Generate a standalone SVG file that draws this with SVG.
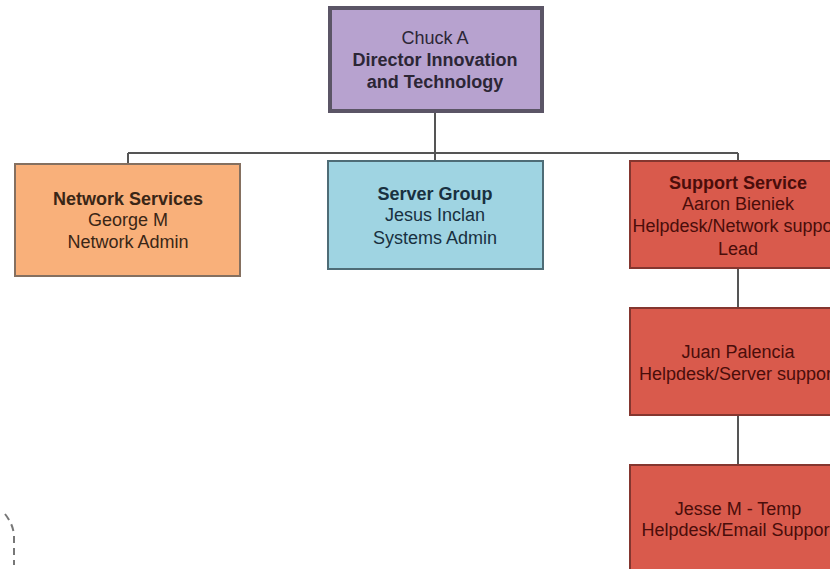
<svg xmlns="http://www.w3.org/2000/svg" width="830" height="569" viewBox="0 0 830 569">
<style>
text{font-family:"Liberation Sans",Arial,sans-serif;font-size:18px;text-anchor:middle}
.b{font-weight:bold}
.conn{stroke:#555;stroke-width:2;fill:none}
.purple rect{fill:#b7a2cf;stroke:#5b5566;stroke-width:4}
.purple text{fill:#2c2636}
.orange rect{fill:#f9b07a;stroke:#857060;stroke-width:2}
.orange text{fill:#3a2616}
.blue rect{fill:#9fd4e2;stroke:#4e6c76;stroke-width:2}
.blue text{fill:#183040}
.red rect{fill:#d95a4c;stroke:#84362f;stroke-width:2}
.red text{fill:#4a0d0a}
</style>
<rect width="830" height="569" fill="#ffffff"/>
<g id="connectors">
<path class="conn" d="M435 112V153M128 153H738M128 153V164M435 153V161M738 153V161M738 268V308M738 415V465"/>
</g>
<g id="chuck" class="purple">
<rect x="330" y="8" width="212" height="103"/>
<text x="435" y="44">Chuck A</text>
<text class="b" x="435" y="66">Director Innovation</text>
<text class="b" x="435" y="88">and Technology</text>
</g>
<g id="network" class="orange">
<rect x="15" y="164" width="225" height="112"/>
<text class="b" x="128" y="205">Network Services</text>
<text x="128" y="226">George M</text>
<text x="128" y="248">Network Admin</text>
</g>
<g id="server" class="blue">
<rect x="328" y="161" width="215" height="108"/>
<text class="b" x="435" y="200">Server Group</text>
<text x="435" y="221">Jesus Inclan</text>
<text x="435" y="244">Systems Admin</text>
</g>
<g id="support" class="red">
<rect x="630" y="161" width="216" height="107"/>
<text class="b" x="738" y="189">Support Service</text>
<text x="738" y="210">Aaron Bieniek</text>
<text x="738" y="232">Helpdesk/Network support</text>
<text x="738" y="255">Lead</text>
</g>
<g id="juan" class="red">
<rect x="630" y="308" width="216" height="107"/>
<text x="738" y="358">Juan Palencia</text>
<text x="738" y="380">Helpdesk/Server support</text>
</g>
<g id="jesse" class="red">
<rect x="630" y="465" width="216" height="120"/>
<text x="738" y="515">Jesse M - Temp</text>
<text x="738" y="536">Helpdesk/Email Support</text>
</g>
<path d="M5 514Q13 524 14 535V565" fill="none" stroke="#777" stroke-width="2" stroke-dasharray="7 5"/>
</svg>
